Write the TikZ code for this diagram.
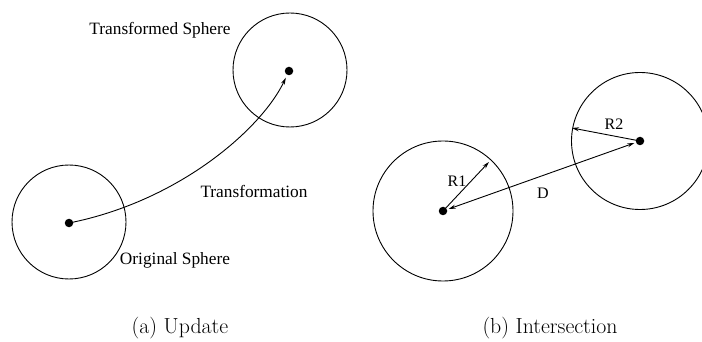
\documentclass[tikz,border=0pt]{standalone}
\usepackage{fontspec}
\newfontfamily\lblfont{Liberation Serif}
\usetikzlibrary{arrows.meta}
\begin{document}
\begin{tikzpicture}[x=1pt,y=-1pt,
  sphere/.style={circle,draw,line width=0.9pt,inner sep=0pt},
  centre/.style={circle,fill,inner sep=0pt,minimum size=8.5pt},
  lbl/.style={font=\lblfont\fontsize{17.3}{20}\selectfont,inner sep=0pt},
  rlbl/.style={font=\lblfont\fontsize{16}{19}\selectfont,inner sep=0pt},
  captxt/.style={font=\fontsize{21.8}{25}\selectfont,inner sep=0pt},
  conn/.style={line width=0.9pt},
  tip/.style={-{Stealth[length=7pt,width=4pt]}}
]
\clip (0,0) rectangle (702,342);
\fill[white] (0,0) rectangle (702,342);
% (a) Update
\node[sphere,minimum size=114pt] (orig) at (69,222) {};
\node[sphere,minimum size=114pt] (trans) at (290,70) {};
\node[centre] (od) at (69,223) {};
\node[centre] (td) at (289,71) {};
\draw[conn,tip,shorten >=3pt] (od.center) .. controls (180,201) and (262,128) .. (td);
\node[lbl] (tl) at (160,30) {Transformed Sphere};
\node[lbl] (trl) at (254,191) {Transformation};
\node[lbl] (ol) at (175,260) {Original Sphere};
\node[captxt] (capa) at (180,328) {(a) Update};
% (b) Intersection
\node[sphere,minimum size=140pt] (s1) at (443,211) {};
\node[sphere,minimum size=137pt] (s2) at (640,141) {};
\node[centre] (d1) at (443,211) {};
\node[centre] (d2) at (640,141) {};
\coordinate (r1e) at (489,162);
\coordinate (r2e) at (572,128);
\draw[conn,tip] (d1.center) -- (r1e);
\draw[conn,tip] (d2.center) -- (r2e);
\draw[conn,{Stealth[length=7pt,width=4pt]}-{Stealth[length=7pt,width=4pt]},shorten <=6pt,shorten >=6pt] (d1.center) -- (d2.center);
\node[rlbl] (r1l) at (457,181) {R1};
\node[rlbl] (r2l) at (614,124) {R2};
\node[rlbl] (dl) at (543,193) {D};
\node[captxt] (capb) at (550,328) {(b) Intersection};
\end{tikzpicture}
\end{document}
